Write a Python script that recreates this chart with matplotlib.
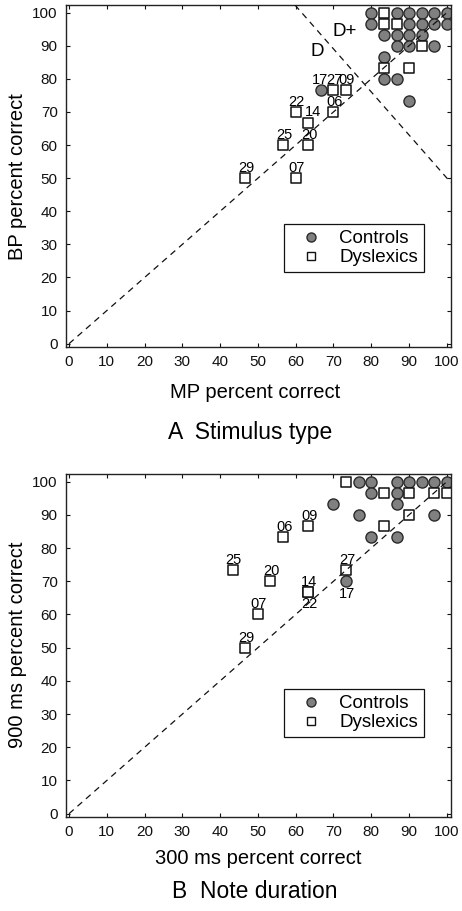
import matplotlib
matplotlib.use("Agg")
import matplotlib.pyplot as plt
from matplotlib.lines import Line2D

plt.rcParams['font.family'] = ['Liberation Sans', 'DejaVu Sans']

# ---------------- Panel A: Stimulus type ----------------
ctrl_A_x = [80, 86.7, 90, 93.3, 96.7, 100,
            80, 90, 93.3, 96.7, 100,
            83.3, 86.7, 90, 93.3,
            86.7, 90, 96.7,
            83.3,
            83.3, 86.7,
            90,
            66.7]
ctrl_A_y = [100, 100, 100, 100, 100, 100,
            96.7, 96.7, 96.7, 96.7, 96.7,
            93.3, 93.3, 93.3, 93.3,
            90, 90, 90,
            86.7,
            80, 80,
            73.3,
            76.7]
ctrl_A_lab = [""] * 22 + ["17"]

dys_A_x = [83.3, 83.3, 86.7, 93.3, 83.3, 90, 70, 73.3, 60, 70, 63.3, 56.7, 63.3, 46.7, 60]
dys_A_y = [100, 96.7, 96.7, 90, 83.3, 83.3, 76.7, 76.7, 70, 70, 66.7, 60, 60, 50, 50]
dys_A_lab = ["", "", "", "", "", "", "27", "09", "22", "06", "14", "25", "20", "29", "07"]

# D / D+ boundary line (endpoints in data units)
bound_x = [59.8, 101.1]
bound_y = [102.3, 48.6]

# ---------------- Panel B: Note duration ----------------
ctrl_B_x = [76.7, 80, 86.7, 90, 93.3, 96.7, 100,
            80, 86.7,
            70, 86.7,
            76.7, 96.7,
            80, 86.7,
            73.3]
ctrl_B_y = [100, 100, 100, 100, 100, 100, 100,
            96.7, 96.7,
            93.3, 93.3,
            90, 90,
            83.3, 83.3,
            70]
ctrl_B_lab = [""] * 15 + ["17"]

dys_B_x = [73.3, 83.3, 90, 96.7, 100, 90, 83.3, 63.3, 56.7, 73.3, 63.3, 63.3, 53.3, 43.3, 50, 46.7]
dys_B_y = [100, 96.7, 96.7, 96.7, 96.7, 90, 86.7, 86.7, 83.3, 73.3, 66.7, 66.7, 70, 73.3, 60, 50]
dys_B_lab = ["", "", "", "", "", "", "", "09", "06", "27", "14", "22", "20", "25", "07", "29"]

ticks = [0, 10, 20, 30, 40, 50, 60, 70, 80, 90, 100]

W, H = 462, 911
fig = plt.figure(figsize=(W / 100, H / 100), dpi=100)


def px_ax(l, t, r, b):
    return [l / W, 1 - b / H, (r - l) / W, (b - t) / H]


# label offsets in pixels (style)
offA = {"27": (1, 10), "09": (1, 10), "17": (-1, 10), "14": (5, 11)}
offB = {"17": (1, -13), "22": (1, -12)}


def panel(ax, cx, cy, clab, dx, dy, dlab, offs, legend_y):
    ax.scatter(cx, cy, s=64, marker='o', facecolor='#808080', edgecolor='#2a2a2a',
               linewidths=1.0, zorder=2, label='Controls')
    ax.scatter(dx, dy, s=46, marker='s', facecolor='white', edgecolor='#111111',
               linewidths=1.1, zorder=2.5, label='Dyslexics')
    ax.plot([0, 100], [0, 100], color='#111111', lw=0.9, dashes=(5, 4), zorder=3)
    for xs, ys, labs in ((cx, cy, clab), (dx, dy, dlab)):
        for x, y, s in zip(xs, ys, labs):
            if s:
                o = offs.get(s, (1, 10))
                ax.annotate(s, (x, y), xytext=o, textcoords='offset pixels',
                            ha='center', va='center', fontsize=10.5, zorder=4)
    ax.set_xlim(-0.8, 101.1)
    ax.set_ylim(-1.0, 102.3)
    ax.set_xticks(ticks)
    ax.set_yticks(ticks)
    ax.tick_params(direction='in', top=True, right=True, length=3, width=0.8,
                   labelsize=11, pad=6, colors='#111111')
    for sp in ax.spines.values():
        sp.set_linewidth(1.0)
        sp.set_color('#222222')
    handles = [Line2D([], [], ls='none', marker='o', ms=6.5, mfc='#808080', mec='#2a2a2a', mew=1.0),
               Line2D([], [], ls='none', marker='s', ms=5.5, mfc='white', mec='#111111', mew=1.0)]
    leg = ax.legend(handles, ['Controls', 'Dyslexics'], loc='lower left',
                    bbox_to_anchor=(0.566, legend_y), fontsize=13.5, frameon=True,
                    fancybox=False, edgecolor='#111111', framealpha=1,
                    borderpad=0.3, handletextpad=0.35, labelspacing=0.12,
                    handlelength=2.3, borderaxespad=0)
    leg.get_frame().set_linewidth(0.9)


axA = fig.add_axes(px_ax(66, 5, 451, 347))
panel(axA, ctrl_A_x, ctrl_A_y, ctrl_A_lab, dys_A_x, dys_A_y, dys_A_lab, offA, 0.219)
axA.plot(bound_x, bound_y, color='#111111', lw=0.9, dashes=(5, 4), zorder=3)
axA.text(69.8, 94.3, "D+", fontsize=13.5, ha='left', va='center')
axA.text(65.6, 88.3, "D", fontsize=13.5, ha='center', va='center')

axB = fig.add_axes(px_ax(66, 474, 451, 817))
panel(axB, ctrl_B_x, ctrl_B_y, ctrl_B_lab, dys_B_x, dys_B_y, dys_B_lab, offB, 0.233)

# axis labels and panel titles
fig.text(255 / W, 1 - 393 / H, "MP percent correct", ha='center', va='center', fontsize=14.5)
fig.text(18 / W, 1 - 177 / H, "BP percent correct", ha='center', va='center', fontsize=14.5, rotation=90)
fig.text(250 / W, 1 - 432 / H, "A  Stimulus type", ha='center', va='center', fontsize=16.5)

fig.text(258 / W, 1 - 858 / H, "300 ms percent correct", ha='center', va='center', fontsize=14.5)
fig.text(18 / W, 1 - 645 / H, "900 ms percent correct", ha='center', va='center', fontsize=14.5, rotation=90)
fig.text(255 / W, 1 - 892 / H, "B  Note duration", ha='center', va='center', fontsize=16.5)

fig.savefig("out.png", dpi=100)
